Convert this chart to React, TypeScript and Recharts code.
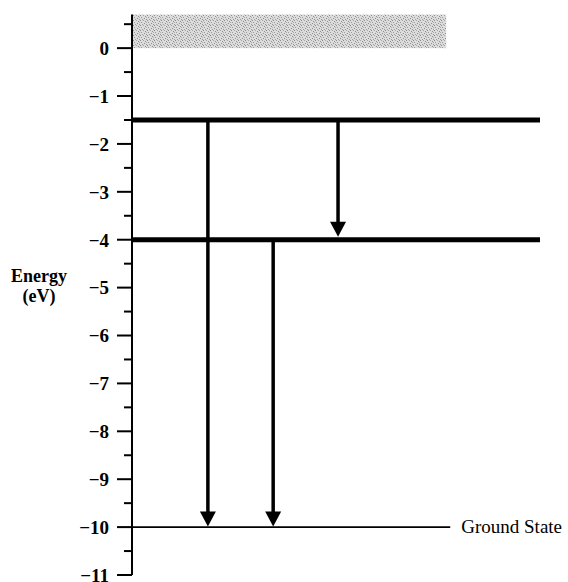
import React from 'react';
import { ComposedChart, XAxis, YAxis, ReferenceLine, ReferenceArea } from 'recharts';

// ---- data ----
const majorTicks = [-11, -10, -9, -8, -7, -6, -5, -4, -3, -2, -1, 0];
const minorTicks = [-10.5, -9.5, -8.5, -7.5, -6.5, -5.5, -4.5, -3.5, -2.5, -1.5, -0.5, 0.5];
const excitedLevels = [-1.5, -4];
const groundLevel = -10;
const groundLabel = 'Ground State';
const continuumBand = [0, 0.7];
const transitionX = [18.6, 50.5, 34.6];
const transitionFrom = [-1.5, -1.5, -4];
const transitionTo = [-10, -4, -10];
const axisTitle = ['Energy', '(eV)'];

const FONT = '"Liberation Serif", "Times New Roman", serif';
const Y_DOMAIN: [number, number] = [-11, 0.7];
const X_DOMAIN: [number, number] = [0, 100];
const GROUND_END = 78;
const BAND_END = 77;

const allTicks = [...majorTicks, ...minorTicks].sort((a, b) => a - b);

const fmt = (v: number) => (v < 0 ? '\u2212' + Math.abs(v) : String(v));

const Tick = (props: any) => {
  const { x, y, payload } = props;
  const v = payload.value as number;
  const major = Number.isInteger(v);
  return (
    <g>
      <line x1={x - (major ? 15 : 8)} x2={x} y1={y} y2={y} stroke="#000" strokeWidth={2} />
      {major && (
        <text x={x - 23} y={y} dy="0.36em" textAnchor="end" fontFamily={FONT} fontSize={19} fontWeight="bold" fill="#000">
          {fmt(v)}
        </text>
      )}
    </g>
  );
};

const makeArrow = (tipOffset: number) => (p: any) => {
  const { x1, y1, x2, y2 } = p;
  const tipY = y2 - tipOffset;
  const head = 15;
  const half = 8;
  return (
    <g>
      <line x1={x1} y1={y1} x2={x2} y2={tipY - head + 1} stroke="#000" strokeWidth={3.5} />
      <polygon points={`${x2 - half},${tipY - head} ${x2 + half},${tipY - head} ${x2},${tipY}`} fill="#000" />
    </g>
  );
};

const GroundShape = (p: any) => {
  const { x1, y1, x2, y2 } = p;
  return (
    <g>
      <line x1={x1} y1={y1} x2={x2} y2={y2} stroke="#000" strokeWidth={1.6} />
      <text x={x2 + 11} y={y2} dy="0.3em" fontFamily={FONT} fontSize={19} fill="#000">
        {groundLabel}
      </text>
    </g>
  );
};

const BandShape = (p: any) => {
  const { x, y, width, height } = p;
  return (
    <g>
      <defs>
        <pattern id="stipple" width="7" height="5" patternUnits="userSpaceOnUse">
          <rect width="7" height="5" fill="#dcdcdc" />
          <rect x="0" y="0" width="1" height="1" fill="#8a8a8a" />
          <rect x="3" y="0" width="1" height="1" fill="#a5a5a5" />
          <rect x="5" y="1" width="1" height="1" fill="#909090" />
          <rect x="1" y="2" width="1" height="1" fill="#9a9a9a" />
          <rect x="4" y="3" width="1" height="1" fill="#8e8e8e" />
          <rect x="2" y="4" width="1" height="1" fill="#a0a0a0" />
          <rect x="6" y="4" width="1" height="1" fill="#999999" />
          <rect x="6" y="2" width="1" height="1" fill="#b0b0b0" />
        </pattern>
      </defs>
      <rect x={x} y={y} width={width} height={height} fill="url(#stipple)" />
    </g>
  );
};

const AxisTitle = (p: any) => {
  const vb = p.viewBox || { x: 0, y: 0, width: 132, height: 560 };
  const cx = vb.x + 39;
  const cy = vb.y + vb.height / 2;
  return (
    <text textAnchor="middle" fontFamily={FONT} fontSize={18} fontWeight="bold" fill="#000">
      <tspan x={cx} y={cy - 13}>{axisTitle[0]}</tspan>
      <tspan x={cx} y={cy + 7}>{axisTitle[1]}</tspan>
    </text>
  );
};

export default function App() {
  return (
    <div style={{ position: 'absolute', left: 0, top: 0, width: 568, height: 582 }}>
      <ComposedChart width={568} height={582} margin={{ top: 14.6, right: 28, bottom: 7, left: 0 }} data={[]}>
        <XAxis type="number" dataKey="x" domain={X_DOMAIN} hide allowDataOverflow />
        <YAxis
          type="number"
          domain={Y_DOMAIN}
          ticks={allTicks}
          interval={0}
          width={132}
          tickSize={0}
          tickMargin={0}
          tickLine={false}
          axisLine={{ stroke: '#000', strokeWidth: 2 }}
          tick={<Tick />}
          allowDataOverflow
          label={{ content: <AxisTitle /> }}
        />
        <ReferenceArea
          x1={0}
          x2={BAND_END}
          y1={continuumBand[0]}
          y2={continuumBand[1]}
          shape={<BandShape />}
          ifOverflow="visible"
        />
        {excitedLevels.map((e) => (
          <ReferenceLine key={'lvl' + e} y={e} stroke="#000" strokeWidth={5} ifOverflow="visible" />
        ))}
        <ReferenceLine
          segment={[{ x: 0, y: groundLevel }, { x: GROUND_END, y: groundLevel }]}
          shape={<GroundShape />}
          ifOverflow="visible"
        />
        {transitionX.map((x, i) => (
          <ReferenceLine
            key={'tr' + i}
            segment={[{ x, y: transitionFrom[i] }, { x, y: transitionTo[i] }]}
            shape={makeArrow(excitedLevels.includes(transitionTo[i]) ? 3 : 0.5)}
            ifOverflow="visible"
          />
        ))}
      </ComposedChart>
    </div>
  );
}
